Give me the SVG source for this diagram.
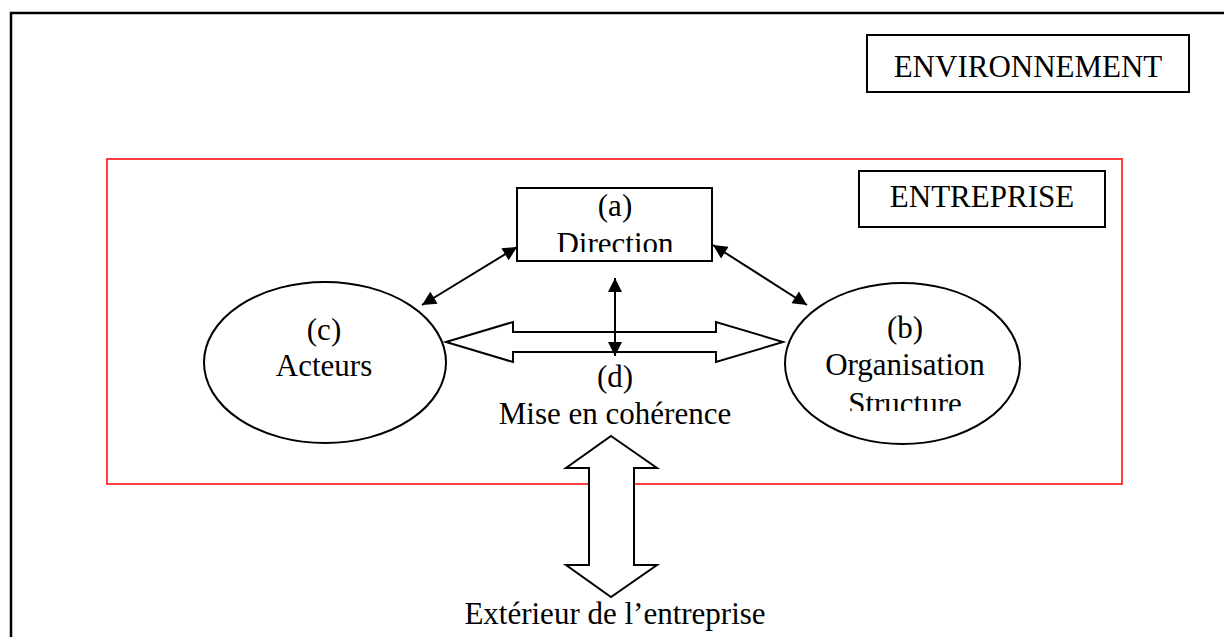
<svg xmlns="http://www.w3.org/2000/svg" width="1224" height="637" viewBox="0 0 1224 637">
<style>
.t{font-family:"Liberation Serif","Times New Roman",serif;font-size:31px;fill:#000;text-anchor:middle}
.box{fill:#fff;stroke:#000;stroke-width:2}
.thin{fill:none;stroke:#000;stroke-width:2}
.big{fill:#fff;stroke:#000;stroke-width:2;stroke-linejoin:miter}
</style>
<defs>
<marker id="ah" viewBox="0 0 10 10" refX="10" refY="5" markerWidth="16" markerHeight="14" markerUnits="userSpaceOnUse" orient="auto-start-reverse">
<path d="M0,0 L10,5 L0,10 z" fill="#000"/>
</marker>
<clipPath id="clipA"><rect x="517" y="150" width="195" height="102"/></clipPath>
<clipPath id="clipB"><rect x="780" y="300" width="250" height="111"/></clipPath>
</defs>
<rect width="1224" height="637" fill="#fff"/>
<path d="M11,637 V13 H1224" fill="none" stroke="#000" stroke-width="2.5"/>
<g id="environnement">
<rect class="box" x="867" y="35" width="322" height="57"/>
<text class="t" x="1028" y="77">ENVIRONNEMENT</text>
</g>
<g id="entreprise">
<rect x="107" y="159" width="1015" height="325" fill="none" stroke="#f00" stroke-width="1.5"/>
<rect class="box" x="859" y="171" width="246" height="56"/>
<text class="t" x="982" y="207">ENTREPRISE</text>
</g>
<g id="direction">
<rect class="box" x="517" y="188" width="195" height="73"/>
<g clip-path="url(#clipA)">
<text class="t" x="615" y="216">(a)</text>
<text class="t" x="615" y="254">Direction</text>
</g>
</g>
<g id="acteurs">
<ellipse class="box" cx="325" cy="362.5" rx="121" ry="80.5"/>
<text class="t" x="324" y="340">(c)</text>
<text class="t" x="324" y="376">Acteurs</text>
</g>
<g id="organisation">
<ellipse class="box" cx="902.5" cy="363.5" rx="117.5" ry="80.5"/>
<text class="t" x="905" y="338">(b)</text>
<g clip-path="url(#clipB)">
<text class="t" x="905" y="375">Organisation</text>
<text class="t" x="905" y="414">Structure</text>
</g>
</g>
<g id="connectors">
<polygon class="big" points="446,342 513,322 513,332 716,332 716,322 783,342 716,362 716,352 513,352 513,362"/>
<line class="thin" x1="517" y1="247" x2="422" y2="305" marker-start="url(#ah)" marker-end="url(#ah)"/>
<line class="thin" x1="713" y1="245" x2="807" y2="305" marker-start="url(#ah)" marker-end="url(#ah)"/>
<line class="thin" x1="615" y1="278" x2="615" y2="356" marker-start="url(#ah)" marker-end="url(#ah)"/>
<polygon class="big" points="611,436 657,468 634,468 634,565 657,565 611,597 566,565 589,565 589,468 566,468"/>
</g>
<g id="coherence">
<text class="t" x="615" y="387">(d)</text>
<text class="t" x="615" y="424">Mise en cohérence</text>
</g>
<g id="exterieur">
<text class="t" x="615" y="624">Extérieur de l’entreprise</text>
</g>
</svg>
